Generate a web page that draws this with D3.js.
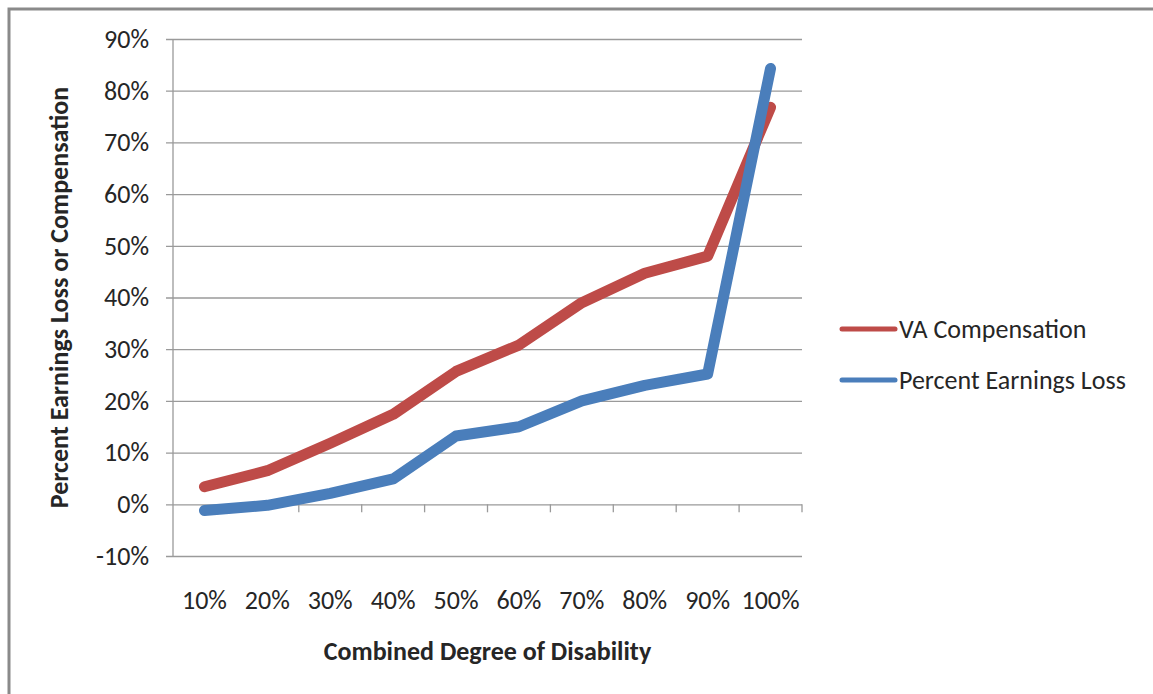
<!DOCTYPE html>
<html>
<head>
<meta charset="utf-8">
<script src="https://cdn.jsdelivr.net/npm/d3@7"></script>
<style>
  html, body { margin: 0; padding: 0; background: #ffffff; }
  svg { display: block; }
  text { font-family: Carlito, Lato, "Open Sans", sans-serif; fill: #262626; }
</style>
</head>
<body>
<svg id="chart" width="1153" height="694"></svg>
<script>
// Combined degree of disability rating categories
const categories = ["10%", "20%", "30%", "40%", "50%", "60%", "70%", "80%", "90%", "100%"];
// VA compensation as a share of earnings
const vaCompensation = [0.034, 0.065, 0.118, 0.174, 0.257, 0.308, 0.390, 0.447, 0.480, 0.768];
// Percent earnings loss
const earningsLoss = [-0.012, -0.002, 0.021, 0.049, 0.132, 0.150, 0.200, 0.230, 0.252, 0.843];
const yTicks = [-0.1, 0, 0.1, 0.2, 0.3, 0.4, 0.5, 0.6, 0.7, 0.8, 0.9];

const series = [
  { name: "VA Compensation", values: vaCompensation, color: "#BE4B48" },
  { name: "Percent Earnings Loss", values: earningsLoss, color: "#4A7EBB" }
];

const svg = d3.select("#chart");

// Outer frame (left and top edges visible)
svg.append("path")
  .attr("d", "M9,694 V9 H1153")
  .attr("fill", "none")
  .attr("stroke", "#8a8a8a")
  .attr("stroke-width", 3);

const plot = { left: 173, right: 802, top: 39, bottom: 556 };

const x = d3.scaleBand().domain(categories).range([plot.left, plot.right]);
const y = d3.scaleLinear().domain([-0.1, 0.9]).range([plot.bottom, plot.top]);
// Percent labels with a plain hyphen for negatives
const pct = v => Math.round(v * 100) + "%";

// Horizontal gridlines with left-side tick marks
const yAxis = svg.append("g")
  .attr("transform", `translate(${plot.left},0)`)
  .call(d3.axisLeft(y).tickValues(yTicks).tickFormat(pct)
    .tickSize(-(plot.right - plot.left)).tickSizeOuter(0).tickPadding(24));
yAxis.select(".domain").remove();
yAxis.selectAll(".tick line")
  .attr("x1", -7)
  .attr("stroke", "#9a9a9a")
  .attr("stroke-width", 1.3);
yAxis.selectAll(".tick text")
  .attr("font-size", 26)
  .attr("font-family", "Carlito, Lato, sans-serif")
  .attr("fill", "#262626");

// Vertical axis line
svg.append("line")
  .attr("x1", plot.left).attr("x2", plot.left)
  .attr("y1", plot.top).attr("y2", plot.bottom)
  .attr("stroke", "#9a9a9a").attr("stroke-width", 1.3);

// Category axis at the zero line, ticks between categories
const xAxisG = svg.append("g")
  .attr("transform", `translate(0,${y(0)})`);
const boundaries = categories.map(c => x(c) + x.bandwidth());
xAxisG.selectAll("line.tick")
  .data(boundaries)
  .join("line")
  .attr("class", "tick")
  .attr("x1", d => d).attr("x2", d => d)
  .attr("y1", 0).attr("y2", 8)
  .attr("stroke", "#9a9a9a").attr("stroke-width", 1.3);

// Category labels below the plot
svg.append("g")
  .selectAll("text")
  .data(categories)
  .join("text")
  .attr("x", d => x(d) + x.bandwidth() / 2)
  .attr("y", 609)
  .attr("text-anchor", "middle")
  .attr("font-size", 26)
  .text(d => d);

// Series lines
const line = d3.line()
  .x((d, i) => x(categories[i]) + x.bandwidth() / 2)
  .y(d => y(d));

svg.append("g")
  .selectAll("path")
  .data(series)
  .join("path")
  .attr("d", d => line(d.values))
  .attr("fill", "none")
  .attr("stroke", d => d.color)
  .attr("stroke-width", 11)
  .attr("stroke-linecap", "round")
  .attr("stroke-linejoin", "round");

// Axis titles
svg.append("text")
  .attr("x", (plot.left + plot.right) / 2)
  .attr("y", 660)
  .attr("text-anchor", "middle")
  .attr("font-size", 26)
  .attr("font-weight", "bold")
  .text("Combined Degree of Disability");

svg.append("text")
  .attr("transform", `translate(68,${(plot.top + plot.bottom) / 2}) rotate(-90)`)
  .attr("text-anchor", "middle")
  .attr("font-size", 26)
  .attr("font-weight", "bold")
  .text("Percent Earnings Loss or Compensation");

// Legend
const legend = svg.append("g")
  .selectAll("g")
  .data(series)
  .join("g")
  .attr("transform", (d, i) => `translate(842,${329 + i * 51})`);
legend.append("line")
  .attr("x1", 0).attr("x2", 53)
  .attr("stroke", d => d.color)
  .attr("stroke-width", 5)
  .attr("stroke-linecap", "round");
legend.append("text")
  .attr("x", 57)
  .attr("dy", "0.35em")
  .attr("font-size", 26)
  .text(d => d.name);
</script>
</body>
</html>
